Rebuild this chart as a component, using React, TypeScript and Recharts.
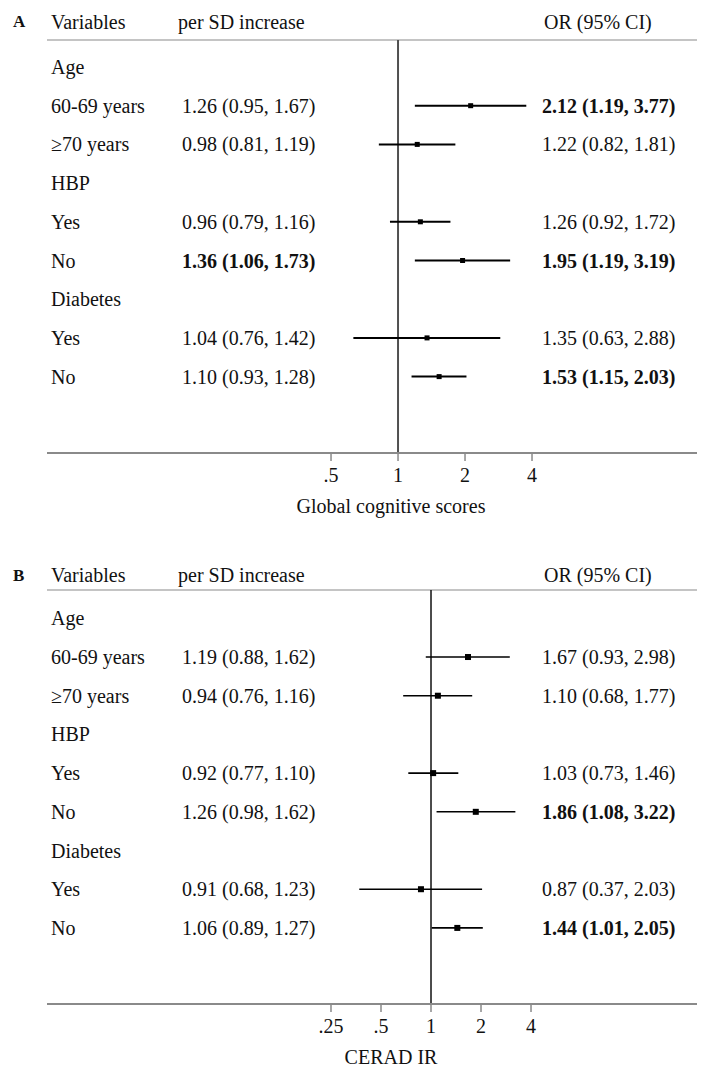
import React from "react";
import { ScatterChart, Scatter, XAxis, YAxis, ReferenceLine } from "recharts";

// ---------- shared row structure ----------
const rowLabels = ["Age", "60-69 years", "≥70 years", "HBP", "Yes", "No", "Diabetes", "Yes", "No"];
const itemRows = [1, 2, 4, 5, 7, 8];

// ---------- Panel A: Global cognitive scores ----------
const sdEstA = [1.26, 0.98, 0.96, 1.36, 1.04, 1.1];
const sdLoA = [0.95, 0.81, 0.79, 1.06, 0.76, 0.93];
const sdHiA = [1.67, 1.19, 1.16, 1.73, 1.42, 1.28];
const sdBoldA = [false, false, false, true, false, false];
const orEstA = [2.12, 1.22, 1.26, 1.95, 1.35, 1.53];
const orLoA = [1.19, 0.82, 0.92, 1.19, 0.63, 1.15];
const orHiA = [3.77, 1.81, 1.72, 3.19, 2.88, 2.03];
const orBoldA = [true, false, false, true, false, true];
const ticksA = [0.5, 1, 2, 4];

// ---------- Panel B: CERAD IR ----------
const sdEstB = [1.19, 0.94, 0.92, 1.26, 0.91, 1.06];
const sdLoB = [0.88, 0.76, 0.77, 0.98, 0.68, 0.89];
const sdHiB = [1.62, 1.16, 1.1, 1.62, 1.23, 1.27];
const sdBoldB = [false, false, false, false, false, false];
const orEstB = [1.67, 1.1, 1.03, 1.86, 0.87, 1.44];
const orLoB = [0.93, 0.68, 0.73, 1.08, 0.37, 1.01];
const orHiB = [2.98, 1.77, 1.46, 3.22, 2.03, 2.05];
const orBoldB = [false, false, false, true, false, true];
const ticksB = [0.25, 0.5, 1, 2, 4];

const FONT = "'Liberation Serif', 'Times New Roman', Times, serif";
const FS = 20;

const fmt = (e: number, l: number, h: number) =>
  `${e.toFixed(2)} (${l.toFixed(2)}, ${h.toFixed(2)})`;

type PanelCfg = {
  letter: string;
  title: string;
  sdEst: number[]; sdLo: number[]; sdHi: number[]; sdBold: boolean[];
  orEst: number[]; orLo: number[]; orHi: number[]; orBold: boolean[];
  ticks: number[];
  xDomain: [number, number];
  yDomain: [number, number];
  headerRow: number;
  topLineRow: number;
  height: number;
  marginTop: number;
  xAxisHeight: number;
  refColor: string;
  refWidth: number;
  ciWidth: number;
  sq: number;
};

// text column positions (svg coords)
const COL_LETTER = 5;
const COL_LABEL = 43;
const COL_SD = 174;
const COL_OR = 534;

function makeTextShape(cfg: PanelCfg) {
  return (p: any) => {
    const y = p.cy;
    const d = p.payload;
    const base = { fontFamily: FONT, fontSize: FS, fill: "#111", dominantBaseline: "central" as const };
    if (d.header) {
      return (
        <g>
          <text x={COL_LETTER} y={y} {...base} fontWeight="bold" fontSize={17}>{cfg.letter}</text>
          <text x={COL_LABEL} y={y} {...base}>Variables</text>
          <text x={COL_SD - 4} y={y} {...base}>per SD increase</text>
          <text x={COL_OR + 2} y={y} {...base}>OR (95% CI)</text>
        </g>
      );
    }
    const idx = itemRows.indexOf(d.row);
    return (
      <g>
        <text x={COL_LABEL} y={y} {...base}>{rowLabels[d.row]}</text>
        {idx >= 0 && (
          <text x={COL_SD} y={y} {...base} fontWeight={cfg.sdBold[idx] ? "bold" : "normal"}>
            {fmt(cfg.sdEst[idx], cfg.sdLo[idx], cfg.sdHi[idx])}
          </text>
        )}
        {idx >= 0 && (
          <text x={COL_OR} y={y} {...base} fontWeight={cfg.orBold[idx] ? "bold" : "normal"}>
            {fmt(cfg.orEst[idx], cfg.orLo[idx], cfg.orHi[idx])}
          </text>
        )}
      </g>
    );
  };
}

const XTick = (props: any) => {
  const { x, y, payload } = props;
  const v: number = payload.value;
  const s = v < 1 ? String(v).replace(/^0/, "") : String(v);
  return (
    <text x={x} y={y + 12} textAnchor="middle" dominantBaseline="central"
      fontFamily={FONT} fontSize={FS} fill="#111">{s}</text>
  );
};

function Panel({ cfg }: { cfg: PanelCfg }) {
  const data = itemRows.map((r, i) => ({ row: r, or: cfg.orEst[i] }));
  const textRows = [
    { row: cfg.headerRow, or: 1, header: true },
    ...rowLabels.map((_, r) => ({ row: r, or: 1, header: false })),
  ];
  const Square = (p: any) => (
    <rect x={p.cx - cfg.sq / 2} y={p.cy - cfg.sq / 2} width={cfg.sq} height={cfg.sq} fill="#000" />
  );
  const AxisTitle = (p: any) => {
    const vb = p.viewBox;
    return (
      <text x={vb.x + vb.width / 2 + 15} y={vb.y + 53} textAnchor="middle" dominantBaseline="central"
        fontFamily={FONT} fontSize={FS} fill="#111">{cfg.title}</text>
    );
  };
  return (
    <div style={{ width: 697, height: cfg.height }}>
      <ScatterChart width={697} height={cfg.height}
        margin={{ top: cfg.marginTop, right: 0, bottom: 0, left: 39 }}>
        <XAxis type="number" dataKey="or" scale="log" domain={cfg.xDomain}
          ticks={cfg.ticks} interval={0} height={cfg.xAxisHeight}
          axisLine={{ stroke: "#8a8a8a", strokeWidth: 2 }}
          tickLine={{ stroke: "#8a8a8a", strokeWidth: 1.5 }} tickSize={8}
          tick={<XTick />} label={<AxisTitle />} />
        <YAxis type="number" dataKey="row" reversed domain={cfg.yDomain}
          width={0} hide />
        <ReferenceLine y={cfg.topLineRow} stroke="#c4c4c4" strokeWidth={2} />
        <ReferenceLine segment={[{ x: 1, y: cfg.topLineRow }, { x: 1, y: cfg.yDomain[1] }]}
          stroke={cfg.refColor} strokeWidth={cfg.refWidth} />
        {itemRows.map((r, i) => (
          <ReferenceLine key={r} segment={[{ x: cfg.orLo[i], y: r }, { x: cfg.orHi[i], y: r }]}
            stroke="#000" strokeWidth={cfg.ciWidth} />
        ))}
        <Scatter data={data} shape={Square} isAnimationActive={false} />
        <Scatter data={textRows} shape={makeTextShape(cfg)} isAnimationActive={false} />
      </ScatterChart>
    </div>
  );
}

const cfgA: PanelCfg = {
  letter: "A", title: "Global cognitive scores",
  sdEst: sdEstA, sdLo: sdLoA, sdHi: sdHiA, sdBold: sdBoldA,
  orEst: orEstA, orLo: orLoA, orHi: orHiA, orBold: orBoldA,
  ticks: ticksA,
  xDomain: [0.02647, 23.95],
  yDomain: [-1.421, 9.974],
  headerRow: -1.163, topLineRow: -0.698,
  height: 515, marginTop: 4, xAxisHeight: 70,
  refColor: "#505050", refWidth: 2, ciWidth: 2, sq: 5,
};

const cfgB: PanelCfg = {
  letter: "B", title: "CERAD  IR",
  sdEst: sdEstB, sdLo: sdLoB, sdHi: sdHiB, sdBold: sdBoldB,
  orEst: orEstB, orLo: orLoB, orHi: orHiB, orBold: orBoldB,
  ticks: ticksB,
  xDomain: [0.00488, 44.6],
  yDomain: [-2.282, 9.966],
  headerRow: -1.119, topLineRow: -0.731,
  height: 545, marginTop: 7, xAxisHeight: 64,
  refColor: "#111", refWidth: 1.5, ciWidth: 1.6, sq: 6,
};

export default function App() {
  return (
    <div style={{ width: 697, background: "#fff" }}>
      <Panel cfg={cfgA} />
      <Panel cfg={cfgB} />
    </div>
  );
}
